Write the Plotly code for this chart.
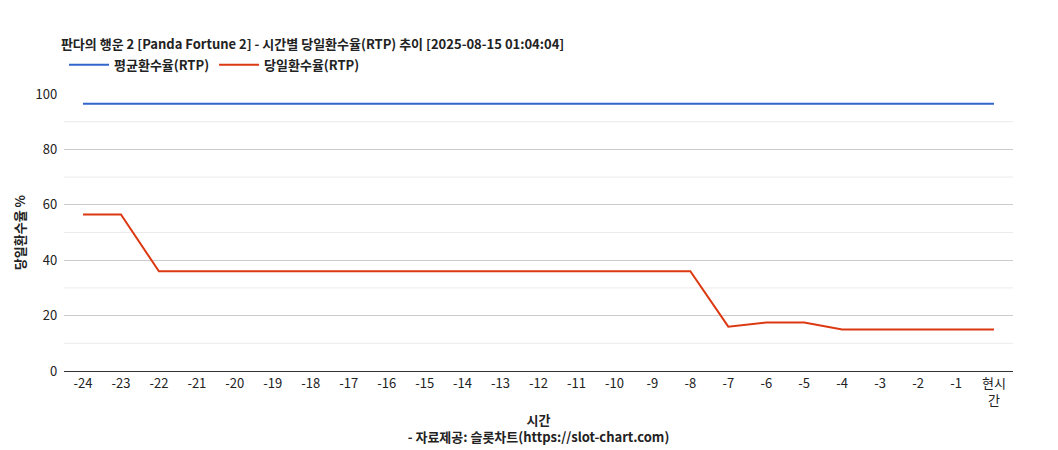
import plotly.graph_objects as go

categories = ["-24","-23","-22","-21","-20","-19","-18","-17","-16","-15","-14","-13","-12","-11","-10","-9","-8","-7","-6","-5","-4","-3","-2","-1","현시<br>간"]
avg_rtp = [96.5]*25
day_rtp = [56.5,56.5,36,36,36,36,36,36,36,36,36,36,36,36,36,36,36,16,17.5,17.5,15,15,15,15,15]

font = "Noto Sans CJK KR"
fig = go.Figure()
fig.add_trace(go.Scatter(x=categories, y=avg_rtp, mode="lines", name="<b>평균환수율(RTP)</b>", line=dict(color="#3366cc", width=2)))
fig.add_trace(go.Scatter(x=categories, y=day_rtp, mode="lines", name="<b>당일환수율(RTP)</b>", line=dict(color="#dc3912", width=2)))

for v in [10,30,50,70,90]:
    fig.add_shape(type="line", xref="paper", x0=0, x1=1, y0=v, y1=v, line=dict(color="#ebebeb", width=1), layer="below")

fig.update_layout(
    width=1058, height=450, plot_bgcolor="white", paper_bgcolor="white",
    font=dict(family=font, size=13, color="#222"),
    title=dict(text="<b>판다의 행운 2 [Panda Fortune 2] - 시간별 당일환수율(RTP) 추이 [2025-08-15 01:04:04]</b>", x=0.05, xanchor="left", y=0.93, font=dict(size=13)),
    legend=dict(orientation="h", x=0.0, xanchor="left", y=1.16, font=dict(size=13), itemwidth=40, traceorder="normal"),
    margin=dict(l=53, r=53, t=86, b=87),
    xaxis=dict(showgrid=False, showline=True, linecolor="#333", ticks="", tickfont=dict(size=13), range=[-0.5, 24.5],
               title=dict(text="<b>시간</b><br><b>- 자료제공: 슬롯차트(https://slot-chart.com)</b>", font=dict(size=13), standoff=8)),
    yaxis=dict(range=[0,100], dtick=20, gridcolor="#cccccc", zeroline=False, tickfont=dict(size=13), ticksuffix="  ",
               title=dict(text="<b>당일환수율 %</b>", font=dict(size=13), standoff=6)),
)
fig.write_html("out.html")
